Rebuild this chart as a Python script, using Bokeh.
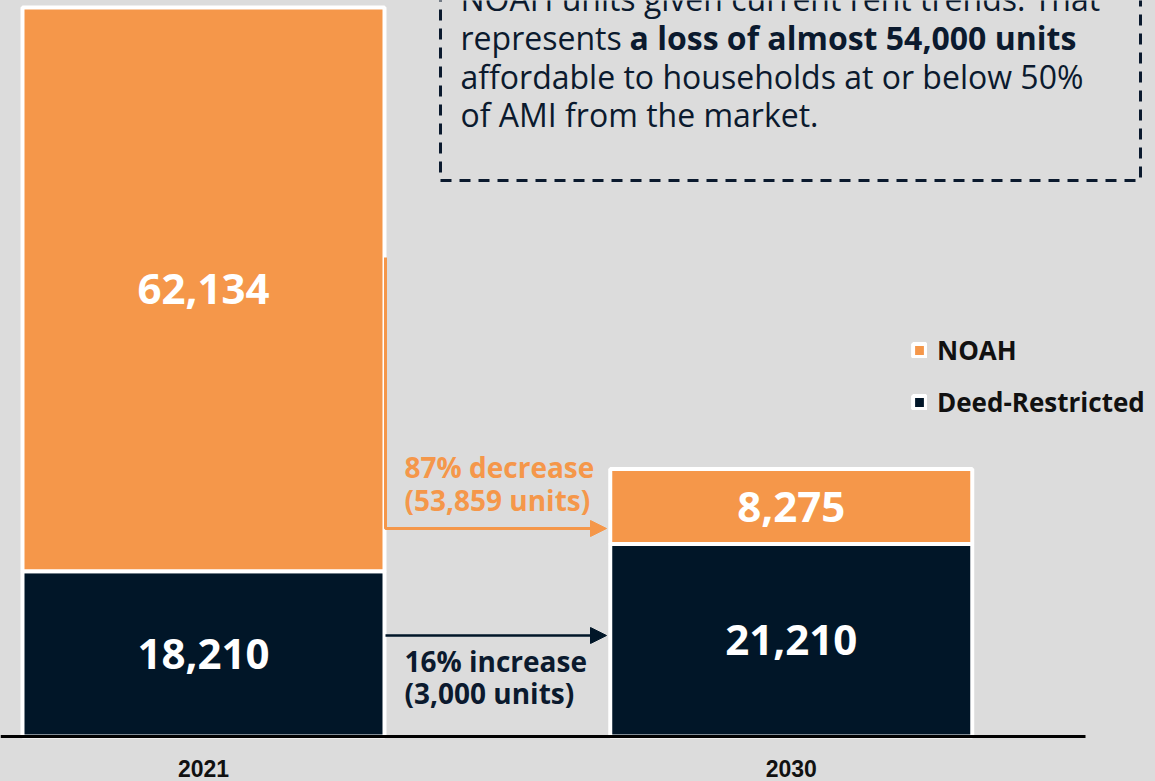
from bokeh.plotting import figure
from bokeh.models import (Range1d, FixedTicker, Legend, LegendItem, Arrow,
                          NormalHead, ColumnDataSource)
from bokeh.core.properties import value
from bokeh.embed import file_html
from bokeh.resources import INLINE

# ---------------- data ----------------
years = ["2021", "2030"]
deed_restricted = [18210, 21210]
noah = [62134, 8275]
series_names = ["Deed-Restricted", "NOAH"]
legend_order = ["NOAH", "Deed-Restricted"]

box_lines = [
    "NOAH units given current rent trends. That",
    "represents ",
    "affordable to households at or below 50%",
    "of AMI from the market.",
]
box_bold = "a loss of almost 54,000 units"

# ---------------- style ----------------
ORANGE = "#f5974a"
NAVY = "#011628"
TEXT = "#0b1a2e"
BG = "#dcdcdc"
FONT = "Open Sans"

W, H = 1155, 781
FRAME_H = 741
BASE_PX = 736
TOP_PX = 7
UNIT = 587.75
BAR_W_PX = 362

totals = [d + n for d, n in zip(deed_restricted, noah)]
k = (BASE_PX - TOP_PX) / max(totals)
y_end = BASE_PX / k
y_start = -(FRAME_H - BASE_PX) / k
x_start = -203 / UNIT
x_end = x_start + W / UNIT

x_idx = list(range(len(years)))
src = ColumnDataSource(dict(x=x_idx, **{"Deed-Restricted": deed_restricted, "NOAH": noah}))

p = figure(width=W, height=H, x_range=Range1d(x_start, x_end),
           y_range=Range1d(y_start, y_end), output_backend="svg",
           toolbar_location=None, y_axis_location=None,
           min_border_left=0, min_border_right=0, min_border_top=0,
           min_border_bottom=H - FRAME_H)
p.extra_x_ranges = {"px": Range1d(0, W)}
p.extra_y_ranges = {"px": Range1d(FRAME_H, 0)}

p.background_fill_color = BG
p.border_fill_color = BG
p.outline_line_color = None
p.xgrid.visible = False
p.ygrid.visible = False

rends = p.vbar_stack(series_names, x="x", width=BAR_W_PX / UNIT, source=src,
                     fill_color=[NAVY, ORANGE], line_color="white", line_width=4)

# value labels in the middle of each segment
lx, ly, lt = [], [], []
for i in x_idx:
    d, n = deed_restricted[i], noah[i]
    lx += [i, i]
    ly += [d / 2, d + n / 2]
    lt += [f"{d:,}", f"{n:,}"]
p.text(x=lx, y=ly, text=lt, text_color="white", text_font=value(FONT),
       text_font_style="bold", text_font_size="42px", text_align="center",
       text_baseline="middle")

# baseline
p.segment(x0=[0], y0=[0], x1=[1085], y1=[0], x_range_name="px",
          line_color="#000000", line_width=3)

# change annotations computed from data
dec = noah[0] - noah[1]
dec_pct = round(dec / noah[0] * 100)
inc = deed_restricted[1] - deed_restricted[0]
inc_pct = round(inc / deed_restricted[0] * 100)

p.text(x=[404, 404], y=[466, 499], text=[f"{dec_pct}% decrease", f"({dec:,} units)"],
       x_range_name="px", y_range_name="px", text_color=ORANGE,
       text_font=value(FONT), text_font_style="bold", text_font_size="28px",
       text_align="left", text_baseline="middle")
p.text(x=[404, 404], y=[660, 692], text=[f"{inc_pct}% increase", f"({inc:,} units)"],
       x_range_name="px", y_range_name="px", text_color=TEXT,
       text_font=value(FONT), text_font_style="bold", text_font_size="28px",
       text_align="left", text_baseline="middle")

# arrows
p.line(x=[385, 385, 596], y=[257, 528, 528], x_range_name="px", y_range_name="px",
       line_color=ORANGE, line_width=3)
p.add_layout(Arrow(end=NormalHead(size=16, fill_color=ORANGE, line_color=ORANGE, line_width=1),
                   x_start=590, y_start=528, x_end=606, y_end=528,
                   line_color=ORANGE, line_width=3, x_range_name="px", y_range_name="px"))
p.add_layout(Arrow(end=NormalHead(size=16, fill_color=NAVY, line_color=NAVY, line_width=1),
                   x_start=385, y_start=635, x_end=606, y_end=635,
                   line_color=NAVY, line_width=2.5, x_range_name="px", y_range_name="px"))

# dashed text box (its top runs off the top edge, as in the original)
p.line(x=[440, 440, 1140, 1140], y=[-10, 180, 180, -10], x_range_name="px",
       y_range_name="px", line_color=TEXT, line_width=3, line_dash="11 8")
p.text(x=[460, 460, 460, 460], y=[-2, 37, 76, 114], text=box_lines,
       x_range_name="px", y_range_name="px", text_color=TEXT,
       text_font=value(FONT), text_font_size="32px", text_align="left",
       text_baseline="alphabetic")
p.text(x=[629], y=[37], text=[box_bold], x_range_name="px", y_range_name="px",
       text_color=TEXT, text_font=value(FONT), text_font_style="bold",
       text_font_size="32px", text_align="left", text_baseline="alphabetic")

# legend
rmap = dict(zip(series_names, rends))
legend = Legend(items=[LegendItem(label=value(nm), renderers=[rmap[nm]]) for nm in legend_order],
                location=(911, 321), orientation="vertical",
                glyph_width=16, glyph_height=16, label_height=28,
                label_text_font=FONT, label_text_font_style="bold",
                label_text_font_size="26px", label_text_color="#111111",
                label_standoff=10, spacing=16, padding=0, margin=0,
                background_fill_alpha=0, border_line_alpha=0)
p.add_layout(legend)

# year axis
ax = p.xaxis[0]
ax.ticker = FixedTicker(ticks=x_idx)
ax.major_label_overrides = {i: y for i, y in enumerate(years)}
ax.axis_line_color = None
ax.major_tick_line_color = None
ax.minor_tick_line_color = None
ax.major_tick_out = 0
ax.major_tick_in = 0
ax.major_label_standoff = 18
ax.major_label_text_font = "Liberation Sans"
ax.major_label_text_font_style = "bold"
ax.major_label_text_font_size = "23px"
ax.major_label_text_color = "#111111"

html = file_html(p, INLINE)
html = html.replace("</head>", "<style>html,body{margin:0;padding:0;background:%s;overflow:hidden}</style></head>" % BG, 1)
open("out.html", "w").write(html)
